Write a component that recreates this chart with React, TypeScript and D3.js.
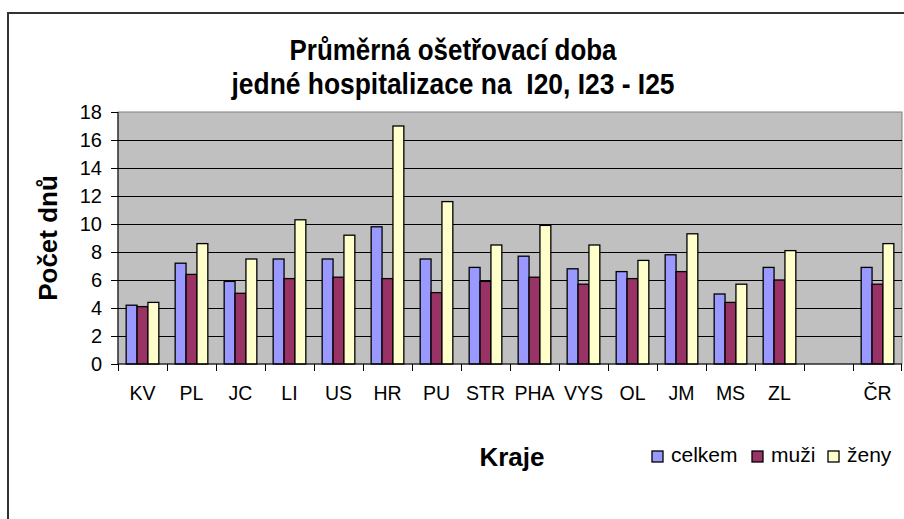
import React from "react";
import * as d3 from "d3";

const categories = ["KV", "PL", "JC", "LI", "US", "HR", "PU", "STR", "PHA", "VYS", "OL", "JM", "MS", "ZL", "", "ČR"];
const celkem = [4.2, 7.2, 5.9, 7.5, 7.5, 9.8, 7.5, 6.9, 7.7, 6.8, 6.6, 7.8, 5.0, 6.9, null, 6.9];
const muzi = [4.1, 6.4, 5.05, 6.1, 6.2, 6.1, 5.1, 5.9, 6.2, 5.7, 6.1, 6.6, 4.4, 6.0, null, 5.7];
const zeny = [4.4, 8.6, 7.5, 10.3, 9.2, 17.0, 11.6, 8.5, 9.9, 8.5, 7.4, 9.3, 5.7, 8.1, null, 8.6];
const seriesNames = ["celkem", "muži", "ženy"];
const seriesColors = ["#9999FF", "#993366", "#FFFFCC"];
const yTicks = [0, 2, 4, 6, 8, 10, 12, 14, 16, 18];
const titleLines = ["Průměrná ošetřovací doba", "jedné hospitalizace na  I20, I23 - I25"];

const W = 904, H = 519;
const plot = { left: 118, top: 112, right: 902, bottom: 364 };
const font = "'Liberation Sans', Arial, sans-serif";
const titleWidths = [327, 443];

export default function App() {
  const x = d3.scaleBand<string>().domain(categories.map((c, i) => String(i))).range([plot.left, plot.right]).paddingInner(0).paddingOuter(0);
  const y = d3.scaleLinear().domain([0, 18]).range([plot.bottom, plot.top]);
  const bw = x.bandwidth();
  const barW = bw / 4.5;
  const series = [celkem, muzi, zeny];

  return (
    <svg width={W} height={H} style={{ position: "absolute", left: 0, top: 0, background: "#fff" }} fontFamily={font}>
      <rect x={8} y={13} width={W + 10} height={H + 10} fill="#fff" stroke="#333" strokeWidth={2} />
      {titleLines.map((t, i) => (
        <text key={i} x={453 - titleWidths[i] / 2} y={60 + i * 34} fontSize={29} fontWeight="bold" fill="#000"
          textLength={titleWidths[i]} lengthAdjust="spacingAndGlyphs" style={{ whiteSpace: "pre" }}>{t}</text>
      ))}
      <rect x={plot.left} y={plot.top} width={plot.right - plot.left} height={plot.bottom - plot.top} fill="#C0C0C0" stroke="#808080" strokeWidth={1} />
      {yTicks.filter(v => v > 0 && v < 18).map(v => (
        <line key={v} x1={plot.left} x2={plot.right} y1={Math.round(y(v)) + 0.5} y2={Math.round(y(v)) + 0.5} stroke="#000" strokeWidth={1} />
      ))}
      {categories.map((c, i) => series.map((s, si) => {
        const v = s[i];
        if (v == null) return null;
        const x0 = (x(String(i)) as number) + (bw - 3 * barW) / 2 + si * barW;
        return <rect key={c + si} x={x0} y={y(v)} width={barW} height={y(0) - y(v)} fill={seriesColors[si]} stroke="#000" strokeWidth={1.3} />;
      }))}
      <line x1={plot.left} x2={plot.left} y1={plot.top} y2={plot.bottom} stroke="#000" strokeWidth={1} />
      <line x1={plot.left} x2={plot.right} y1={plot.bottom} y2={plot.bottom} stroke="#000" strokeWidth={1} />
      {yTicks.map(v => (
        <g key={v}>
          <line x1={plot.left - 7} x2={plot.left} y1={Math.round(y(v)) + 0.5} y2={Math.round(y(v)) + 0.5} stroke="#000" />
          <text x={102} y={y(v) + 7} textAnchor="end" fontSize={20} fill="#000">{v}</text>
        </g>
      ))}
      {categories.map((c, i) => (
        <g key={"t" + i}>
          <line x1={Math.round(x(String(i)) as number) + 0.5} x2={Math.round(x(String(i)) as number) + 0.5} y1={plot.bottom} y2={plot.bottom + 7} stroke="#000" />
          <text x={(x(String(i)) as number) + bw / 2} y={400} textAnchor="middle" fontSize={19.5} fill="#000">{c}</text>
        </g>
      ))}
      <line x1={plot.right - 0.5} x2={plot.right - 0.5} y1={plot.bottom} y2={plot.bottom + 7} stroke="#000" />
      <text transform="translate(57,238) rotate(-90)" textAnchor="middle" fontSize={26} fontWeight="bold" fill="#000">Počet dnů</text>
      <text x={512} y={466} textAnchor="middle" fontSize={26} fontWeight="bold" fill="#000">Kraje</text>
      {seriesNames.map((n, i) => {
        const lx = [652, 752, 828][i];
        return (
          <g key={n}>
            <rect x={lx} y={451} width={11} height={11} fill={seriesColors[i]} stroke="#000" strokeWidth={1.3} />
            <text x={lx + 19} y={462} fontSize={21} fill="#000">{n}</text>
          </g>
        );
      })}
    </svg>
  );
}
